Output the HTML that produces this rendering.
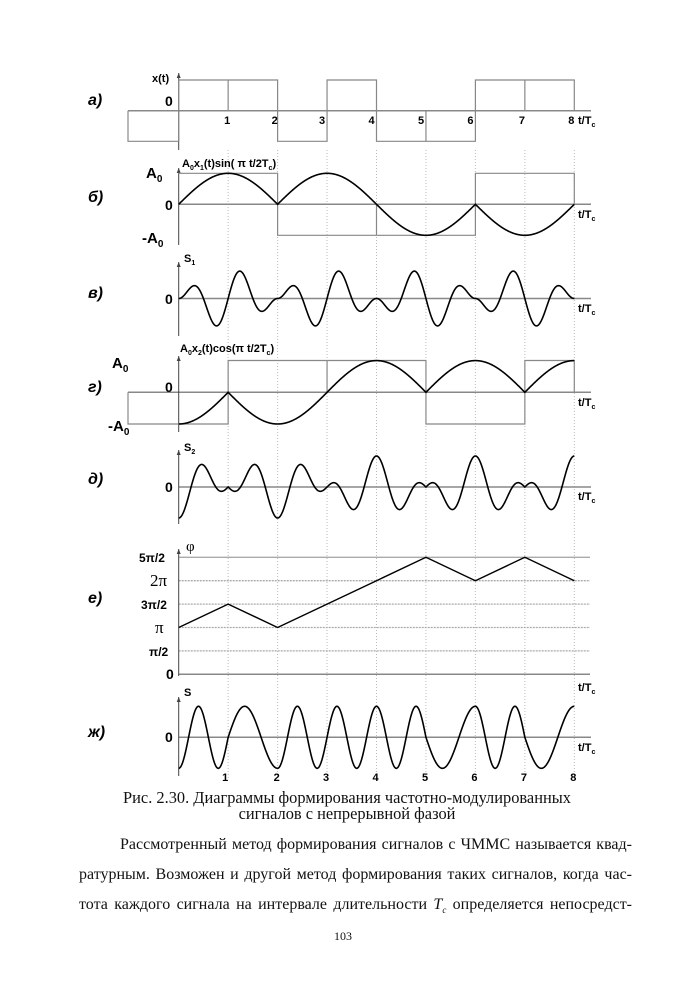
<!DOCTYPE html>
<html><head><meta charset="utf-8">
<style>
html,body{margin:0;padding:0;background:#fff;}
body{width:700px;height:990px;position:relative;overflow:hidden;}
svg{position:absolute;left:0;top:0;}
.b{font-family:"Liberation Sans",sans-serif;font-weight:bold;fill:#000;}
.s{font-family:"Liberation Serif",serif;fill:#000;}
.txt{position:absolute;font-family:"Liberation Serif",serif;color:#111;}
</style></head><body>
<svg id="g" width="700" height="990" viewBox="0 0 700 990" xmlns="http://www.w3.org/2000/svg">
<g id="grid" stroke="#bbb" stroke-width="1" stroke-dasharray="1,2"></g>
<g id="lines" fill="none"></g>
<g id="curves" fill="none" stroke="#000" stroke-width="1.6"></g>
<g class="b" font-style="italic" font-size="16">
<text x="88" y="105">а)</text>
<text x="88" y="202">б)</text>
<text x="88" y="298">в)</text>
<text x="88" y="392">г)</text>
<text x="88" y="484">д)</text>
<text x="88" y="603">е)</text>
<text x="88" y="737">ж)</text>
</g>
<g class="b" font-size="14">
<text x="165" y="106">0</text>
<text x="165" y="210">0</text>
<text x="165" y="304">0</text>
<text x="165" y="392">0</text>
<text x="165" y="492">0</text>
<text x="165" y="742">0</text>
<text x="146" y="178" font-size="15">A<tspan font-size="10" dy="4">0</tspan></text>
<text x="142" y="243" font-size="15">-A<tspan font-size="10" dy="4">0</tspan></text>
<text x="112" y="368" font-size="15">A<tspan font-size="10" dy="4">0</tspan></text>
<text x="108" y="431" font-size="15">-A<tspan font-size="10" dy="4">0</tspan></text>
</g>
<g class="b" font-size="11">
<text x="152" y="82">x(t)</text>
<text x="182" y="167">A<tspan font-size="7" dy="3">0</tspan><tspan dy="-3">x</tspan><tspan font-size="7" dy="3">1</tspan><tspan dy="-3">(t)sin( π t/2T</tspan><tspan font-size="7" dy="3">c</tspan><tspan dy="-3">)</tspan></text>
<text x="184" y="262">S<tspan font-size="7" dy="3">1</tspan></text>
<text x="180" y="352">A<tspan font-size="7" dy="3">0</tspan><tspan dy="-3">x</tspan><tspan font-size="7" dy="3">2</tspan><tspan dy="-3">(t)cos(π t/2T</tspan><tspan font-size="7" dy="3">c</tspan><tspan dy="-3">)</tspan></text>
<text x="184" y="451">S<tspan font-size="7" dy="3">2</tspan></text>
<text x="184" y="696">S</text>
</g>
<text class="s" x="186" y="551" font-size="15">φ</text>
<g class="b" font-size="11" id="tl"></g>
<g class="b" font-size="12">
<text x="139" y="562">5π/2</text>
<text x="141" y="609">3π/2</text>
<text x="149" y="656">π/2</text>
</g>
<g class="s" font-size="17">
<text x="150" y="586">2π</text>
<text x="155" y="633">π</text>
</g>
<text class="b" x="166" y="679" font-size="14">0</text>
</svg>
<div class="txt" style="left:0;width:694px;top:790px;text-align:center;font-size:16.4px;line-height:16px;">Рис. 2.30. Диаграммы формирования частотно-модулированных<br>сигналов с непрерывной фазой</div>
<div class="txt" style="left:79px;width:553px;top:830px;font-size:16px;line-height:30px;text-align:justify;">
<div style="text-indent:41px;text-align-last:justify;">Рассмотренный метод формирования сигналов с ЧММС называется квад-</div>
<div style="text-align-last:justify;">ратурным. Возможен и другой метод формирования таких сигналов, когда час-</div>
<div style="text-align-last:justify;">тота каждого сигнала на интервале длительности <i>T<sub style="font-size:9px">c</sub></i> определяется непосредст-</div>
</div>
<div class="txt" style="left:334px;top:929px;font-size:12px;">103</div>
<script>
const NS="http://www.w3.org/2000/svg";
const X=t=>178.7+49.45*t;
function el(p,tag,a){const e=document.createElementNS(NS,tag);for(const k in a)e.setAttribute(k,a[k]);document.getElementById(p).appendChild(e);return e;}
for(let i=1;i<=8;i++) el("grid","line",{x1:X(i),y1:150,x2:X(i),y2:778});
const PY=v=>674.3-v*23.4;
for(let v=1;v<=5;v++) el("lines","line",{x1:X(0),y1:PY(v),x2:590,y2:PY(v),stroke:"#aaa","stroke-width":1.3,"stroke-dasharray":v==5?"":"2,1"});
el("lines","line",{x1:X(0),y1:PY(0),x2:590,y2:PY(0),stroke:"#888","stroke-width":1.5});
[[110.7,128],[204.3,179],[298.5,179],[392.3,128],[487,179],[737.3,179]].forEach(([y,x0])=>el("lines","line",{x1:x0,y1:y,x2:591,y2:y,stroke:"#888","stroke-width":1.5}));
[[73,150],[168,245],[262,336],[356,432],[450,524],[549,676],[697,776]].forEach(([a,b])=>{
 el("lines","line",{x1:X(0),y1:a,x2:X(0),y2:b,stroke:"#444","stroke-width":1});
 el("lines","path",{d:`M${X(0)-2},${a+5}L${X(0)},${a}L${X(0)+2},${a+5}Z`,fill:"#444"});
});
const sq="#888";
function P(d){el("lines","path",{d:d,stroke:sq,"stroke-width":1.2});}
{const z=110.7,h=80,l=141.3;
P(`M128,${z}V${l}H${X(0)}V${h}H${X(2)}V${l}H${X(3)}V${h}H${X(4)}V${l}H${X(6)}V${h}H${X(8)}V${z}`);
P(`M${X(1)},${h}V${z}M${X(5)},${l}V${z}M${X(7)},${h}V${z}`);}
{const z=204.3,h=173.3,l=235.3;
P(`M${X(0)},${h}H${X(2)}V${l}H${X(6)}V${h}H${X(8)}V${z}M${X(4)},${l}V${z}`);}
{const z=392.3,h=360.5,l=424;
P(`M128,${z}V${l}H${X(1)}V${h}H${X(5)}V${l}H${X(7)}V${h}H${X(8)}V${z}M${X(3)},${h}V${z}`);}
const pv=[2,3,2,3,4,5,4,5,4].map(v=>v*Math.PI/2);
function phi(t){let i=Math.min(7,Math.floor(t));return pv[i]+(pv[i+1]-pv[i])*(t-i);}
function curve(f,y0,A){let d="";for(let k=0;k<=1600;k++){const t=k*8/1600;d+=(k?"L":"M")+X(t).toFixed(2)+","+(y0-A*f(t)).toFixed(2);}el("curves","path",{d:d});}
curve(t=>-Math.sin(phi(t)),204.3,31);
curve(t=>-Math.sin(phi(t))*Math.sin(2*Math.PI*t),298.5,29.5);
curve(t=>Math.cos(phi(t)),392.3,31.7);
curve(t=>Math.cos(phi(t))*Math.cos(2*Math.PI*t),487,31);
curve(t=>Math.cos(2*Math.PI*t+phi(t)),737.3,31);
{let d="";for(let i=0;i<=8;i++)d+=(i?"L":"M")+X(i)+","+PY(pv[i]/(Math.PI/2));el("curves","path",{d:d,"stroke-width":1.4});}
for(let i=1;i<=8;i++){
 el("tl","text",{x:X(i)-(i==1?4:i<=6&&i!=2?8:6),y:124}).textContent=i;
 el("tl","text",{x:X(i)-(i==1?6:4),y:781}).textContent=i;
}
[124,218,312,406,500,691,751].forEach(y=>{const t=el("tl","text",{x:578,y:y});t.innerHTML='t/T<tspan font-size="7" dy="3">c</tspan>';});
</script>
</body></html>
